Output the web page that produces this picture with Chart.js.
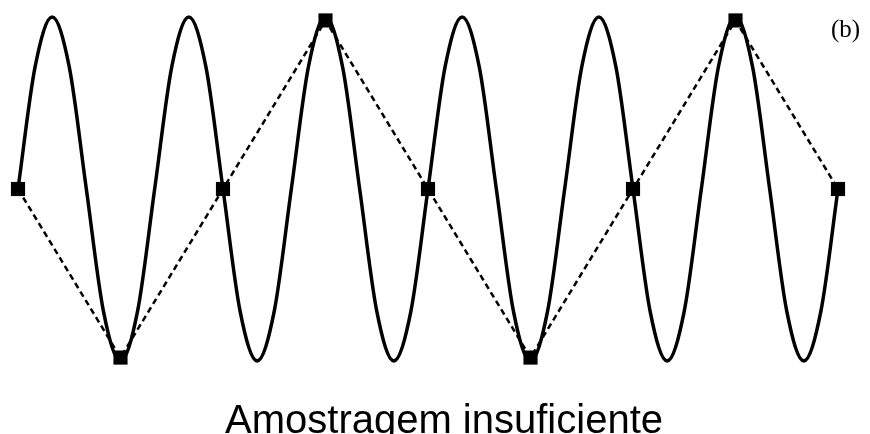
<!DOCTYPE html>
<html>
<head>
<meta charset="utf-8">
<script src="https://cdn.jsdelivr.net/npm/chart.js"></script>
<style>
  html, body { margin: 0; padding: 0; background: #fff; }
  #wrap { width: 870px; height: 434px; }
</style>
</head>
<body>
<div id="wrap"><canvas id="chart" width="870" height="434"></canvas></div>
<script>
// sinal continuo lido a cada 1/8 de periodo (6 periodos)
const waveX = [0,1,2,3,4,5,6,7,8,9,10,11,12,13,14,15,16,17,18,19,20,21,22,23,24,
  25,26,27,28,29,30,31,32,33,34,35,36,37,38,39,40,41,42,43,44,45,46,47,48];
const waveY = [0,0.71,1,0.71,0,-0.71,-1,-0.71,
  0,0.71,1,0.71,0,-0.71,-1,-0.71,
  0,0.71,1,0.71,0,-0.71,-1,-0.71,
  0,0.71,1,0.71,0,-0.71,-1,-0.71,
  0,0.71,1,0.71,0,-0.71,-1,-0.71,
  0,0.71,1,0.71,0,-0.71,-1,-0.71,
  0];
// amostras (uma a cada 3/4 de periodo)
const sampleX = [0,6,12,18,24,30,36,42,48];
const sampleY = [0,-0.98,0,0.98,0,-0.98,0,0.98,0];

const panelLabel = '(b)';
const titleText = 'Amostragem insuficiente';

// textos desenhados por cima
const textPlugin = {
  id: 'texts',
  afterDraw(chart) {
    const ctx = chart.ctx;
    ctx.save();
    ctx.fillStyle = '#000';
    ctx.textBaseline = 'alphabetic';
    ctx.font = '25px "Liberation Serif"';
    ctx.textAlign = 'left';
    ctx.fillText(panelLabel, 831, 37);
    ctx.font = '40px "Liberation Sans"';
    ctx.textAlign = 'center';
    ctx.fillText(titleText, 444, 433);
    ctx.restore();
  }
};

new Chart(document.getElementById('chart'), {
  type: 'line',
  data: {
    datasets: [
      {
        label: 'amostras',
        data: sampleX.map((x, i) => ({x: x, y: sampleY[i]})),
        borderColor: '#000',
        borderWidth: 2.5,
        borderDash: [6, 4],
        pointStyle: 'rect',
        pointRadius: 10,
        pointBackgroundColor: '#000',
        pointBorderWidth: 0,
        tension: 0,
        clip: false,
        order: 0
      },
      {
        label: 'sinal',
        data: waveX.map((x, i) => ({x: x, y: waveY[i]})),
        borderColor: '#000',
        borderWidth: 3.5,
        pointRadius: 0,
        cubicInterpolationMode: 'monotone',
        clip: false,
        order: 1
      }
    ]
  },
  options: {
    responsive: false,
    animation: false,
    layout: { padding: { left: 18, right: 32, top: 17, bottom: 73 } },
    scales: {
      x: { type: 'linear', min: 0, max: 48, display: false },
      y: { min: -1, max: 1, display: false }
    },
    plugins: {
      legend: { display: false },
      tooltip: { enabled: false }
    }
  },
  plugins: [textPlugin]
});
</script>
</body>
</html>
